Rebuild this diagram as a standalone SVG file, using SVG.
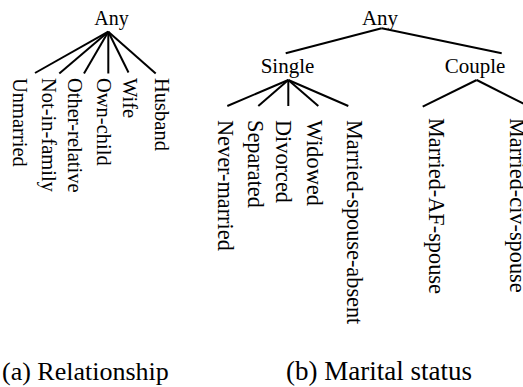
<svg xmlns="http://www.w3.org/2000/svg" width="523" height="387" viewBox="0 0 523 387" font-family="'Liberation Serif', 'Times New Roman', Times, serif">
  <style>
    text { font-family: 'Liberation Serif', 'Times New Roman', Times, serif; fill: #000; }
    .root { font-size: 20px; text-anchor: middle; }
    .mid { font-size: 21px; text-anchor: middle; }
    .leafA { font-size: 20.5px; }
    .leafB { font-size: 22.3px; }
    .capA { font-size: 26px; }
    .capB { font-size: 27px; }
    .edge { stroke: #000; stroke-width: 2; fill: none; stroke-linecap: butt; }
  </style>

  <!-- connectors -->
  <g id="connectors">
    <!-- relationship hierarchy -->
    <line class="edge" x1="108.3" y1="31.7" x2="35" y2="73"/>
    <line class="edge" x1="108.3" y1="31.7" x2="59.3" y2="73.5"/>
    <line class="edge" x1="108.3" y1="31.7" x2="84" y2="73.5"/>
    <line class="edge" x1="108.3" y1="31.7" x2="108.3" y2="73.5"/>
    <line class="edge" x1="108.3" y1="31.7" x2="128.5" y2="72.5"/>
    <line class="edge" x1="108.3" y1="31.7" x2="155.7" y2="73.5"/>
    <!-- marital status hierarchy -->
    <line class="edge" x1="381.7" y1="28.3" x2="285.7" y2="53.3"/>
    <line class="edge" x1="381.7" y1="28.3" x2="501.7" y2="53.3"/>
    <line class="edge" x1="288.3" y1="80" x2="227.3" y2="106"/>
    <line class="edge" x1="288.3" y1="80" x2="258.3" y2="106"/>
    <line class="edge" x1="288.3" y1="80" x2="288.3" y2="106"/>
    <line class="edge" x1="288.3" y1="80" x2="318.3" y2="106"/>
    <line class="edge" x1="288.3" y1="80" x2="348.3" y2="106"/>
    <line class="edge" x1="476.7" y1="80" x2="422.7" y2="106.7"/>
    <line class="edge" x1="476.7" y1="80" x2="530" y2="107"/>
  </g>

  <!-- (a) Relationship -->
  <g id="rel-any"><text class="root" x="111.5" y="25">Any</text></g>
  <g id="rel-unmarried"><text class="leafA" transform="translate(13,78) rotate(90)">Unmarried</text></g>
  <g id="rel-not-in-family"><text class="leafA" transform="translate(42,78) rotate(90)">Not-in-family</text></g>
  <g id="rel-other-relative"><text class="leafA" transform="translate(68,78) rotate(90)">Other-relative</text></g>
  <g id="rel-own-child"><text class="leafA" transform="translate(97,78) rotate(90)">Own-child</text></g>
  <g id="rel-wife"><text class="leafA" transform="translate(123,78) rotate(90)">Wife</text></g>
  <g id="rel-husband"><text class="leafA" transform="translate(155,78) rotate(90)">Husband</text></g>

  <!-- (b) Marital status -->
  <g id="mar-any"><text class="mid" x="380" y="25">Any</text></g>
  <g id="mar-single"><text class="mid" x="287.5" y="73">Single</text></g>
  <g id="mar-couple"><text class="mid" x="475" y="73">Couple</text></g>
  <g id="mar-never-married"><text class="leafB" transform="translate(218,120) rotate(90)">Never-married</text></g>
  <g id="mar-separated"><text class="leafB" transform="translate(248,120) rotate(90)">Separated</text></g>
  <g id="mar-divorced"><text class="leafB" transform="translate(276,120) rotate(90)">Divorced</text></g>
  <g id="mar-widowed"><text class="leafB" transform="translate(307,120) rotate(90)">Widowed</text></g>
  <g id="mar-married-spouse-absent"><text class="leafB" transform="translate(347,120) rotate(90)">Married-spouse-absent</text></g>
  <g id="mar-married-af-spouse"><text class="leafB" transform="translate(429,118) rotate(90)">Married-AF-spouse</text></g>
  <g id="mar-married-civ-spouse"><text class="leafB" transform="translate(510,118) rotate(90)">Married-civ-spouse</text></g>

  <!-- captions -->
  <text class="capA" x="2" y="380">(a) Relationship</text>
  <text class="capB" x="286" y="380">(b) Marital status</text>
</svg>
